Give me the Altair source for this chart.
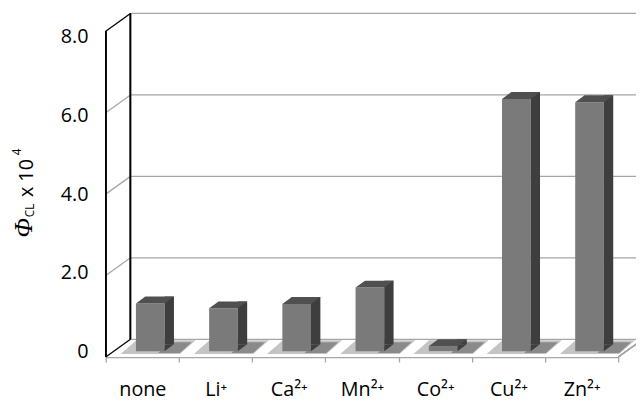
import altair as alt
import pandas as pd

# ---- data ----
categories = ["none", "Li⁺", "Ca²⁺", "Mn²⁺", "Co²⁺", "Cu²⁺", "Zn²⁺"]
phi_values = [1.17, 1.05, 1.16, 1.56, 0.12, 6.19, 6.11]
y_ticks = [0, 2, 4, 6, 8]
title_parts = ["Φ", "CL", "x 10", "4"]

# ---- layout / style ----
W, H = 519, 330          # front plane of the 3-D box
DX, DY = 25, -18         # depth shift to the back wall
FONT = "Open Sans"
GRID = "#a6a6a6"
FACE, SIDE, TOP = "#7a7a7a", "#3e3e3e", "#505050"

bars = pd.DataFrame({"ion": categories, "phi": phi_values})
ticks = pd.DataFrame({"v": y_ticks})

yscale = alt.Scale(domain=[y_ticks[0], y_ticks[-1]], nice=False, zero=True)
xscale = alt.Scale(domain=categories, paddingInner=0, paddingOuter=0)

X = alt.X("ion:N", sort=categories, scale=xscale,
          axis=alt.Axis(title=None, tickBand="extent", labelAngle=0, labelFont=FONT,
                        labelFontSize=20, labelColor="black", domainColor=GRID,
                        tickColor=GRID, tickSize=5, labelBaseline="alphabetic",
                        labelPadding=34, domainWidth=1.3, tickWidth=1.3))
Xn = alt.X("ion:N", sort=categories, scale=xscale)
Yv = alt.Y("v:Q", scale=yscale, axis=None)
Yphi = alt.Y("phi:Q", scale=yscale, axis=None)
Y0 = alt.YDatum(0, scale=yscale, axis=None)

# back wall grid lines
back_grid = alt.Chart(ticks).mark_rule(color=GRID, strokeWidth=1.3, yOffset=DY).encode(
    x=alt.value(DX), x2=alt.value(W + 40), y=Yv)
# side wall diagonals
diag_gray = alt.Chart(ticks).transform_filter("datum.v > 0 && datum.v < 8").mark_rule(
    color=GRID, strokeWidth=1.3, y2Offset=DY).encode(
    x=alt.value(0), x2=alt.value(DX), y=Yv, y2=alt.Y2("v:Q"))
diag_black = alt.Chart(ticks).transform_filter("datum.v == 0 || datum.v == 8").mark_rule(
    color="black", strokeWidth=1.3, y2Offset=DY).encode(
    x=alt.value(0), x2=alt.value(DX), y=Yv, y2=alt.Y2("v:Q"))
front_axis = alt.Chart(ticks).mark_rule(color="black", strokeWidth=1.3).encode(
    x=alt.value(0), y=alt.YDatum(y_ticks[0], scale=yscale, axis=None),
    y2=alt.Y2Datum(y_ticks[-1]))
back_vert = alt.Chart(ticks).mark_rule(color="black", strokeWidth=1.3, yOffset=DY, y2Offset=DY).encode(
    x=alt.value(DX), y=alt.YDatum(y_ticks[0], scale=yscale, axis=None),
    y2=alt.Y2Datum(y_ticks[-1]))
floor_right = alt.Chart(ticks).mark_rule(color=GRID, strokeWidth=1.3, y2Offset=DY).encode(
    x=alt.value(W), x2=alt.value(W + DX), y=Y0, y2=alt.Y2Datum(0))

# shadows on the floor
shadow_light = alt.Chart(bars).mark_point(
    shape="M -30 3 L 30 3 L 46 -11 L -14 -11 Z", size=4, filled=True,
    color="#c4c4c4", opacity=1, strokeWidth=0, xOffset=8, yOffset=-6).encode(x=X, y=Y0)
shadow_dark = alt.Chart(bars).mark_point(
    shape="M 8 2 L 30 2 L 42 -9 L 20 -9 Z", size=4, filled=True,
    color="#8a8a8a", opacity=1, strokeWidth=0, xOffset=8, yOffset=-6).encode(x=Xn, y=Y0)

# 3-D bars
face = alt.Chart(bars).mark_bar(color=FACE, width=29, xOffset=8, yOffset=-6, y2Offset=-6).encode(
    x=Xn, y=Yphi)
side = alt.Chart(bars).mark_bar(color=SIDE, width=9.5, xOffset=27.25, yOffset=-13, y2Offset=-13).encode(
    x=Xn, y=Yphi)
side_bottom = alt.Chart(bars).mark_point(
    shape="M 14.5 0 L 24 -7 L 14.5 -7 Z", size=4, filled=True, color=SIDE,
    opacity=1, strokeWidth=0, xOffset=8, yOffset=-6).encode(x=Xn, y=Y0)
top = alt.Chart(bars).mark_point(
    shape="M -14.5 0 L 14.5 0 L 24 -7 L -5 -7 Z", size=4, filled=True, color=TOP,
    opacity=1, strokeWidth=0, xOffset=8, yOffset=-6).encode(x=Xn, y=Yphi)

inner = alt.layer(back_grid, diag_gray, diag_black, back_vert, floor_right,
                  shadow_light, shadow_dark, face, side, side_bottom, top, front_axis)

# y tick labels (Excel places them on a slightly compressed scale)
labels = alt.Chart(ticks).mark_point(opacity=0).encode(
    x=alt.value(0),
    y=alt.Y("v:Q", scale=alt.Scale(domain=[-0.146, 8.146], nice=False, zero=False),
            axis=alt.Axis(orient="left", values=y_ticks,
                          labelExpr="datum.value == 0 ? '0' : format(datum.value, '.1f')",
                          domain=False, ticks=False, grid=False, title=None,
                          labelPadding=18, labelFont=FONT, labelFontSize=20,
                          labelColor="black")))

# y title  Φ_CL x 10^4 (rotated)
def tpart(txt, x, y, size, font=FONT, style="normal"):
    return alt.Chart(pd.DataFrame({"t": [txt]})).mark_text(
        angle=270, align="left", baseline="alphabetic", font=font, fontStyle=style,
        fontSize=size, color="black").encode(text="t:N", x=alt.value(x), y=alt.value(y))

t_phi = tpart(title_parts[0], -75, 209, 26, font="Liberation Serif", style="italic")
t_cl = tpart(title_parts[1], -73, 188.5, 12)
t_x10 = tpart(title_parts[2], -74, 168, 20)
t_4 = tpart(title_parts[3], -86, 125.5, 12)

chart = alt.layer(inner, labels, t_phi, t_cl, t_x10, t_4).resolve_scale(
    y="independent"
).properties(
    width=W, height=H,
    autosize=alt.AutoSizeParams(type="none"),
    padding={"left": 99, "top": 21, "right": 18, "bottom": 42},
    background="white",
).configure_view(stroke=None)

chart.save("out.html", embed_options={"renderer": "svg", "actions": False})
